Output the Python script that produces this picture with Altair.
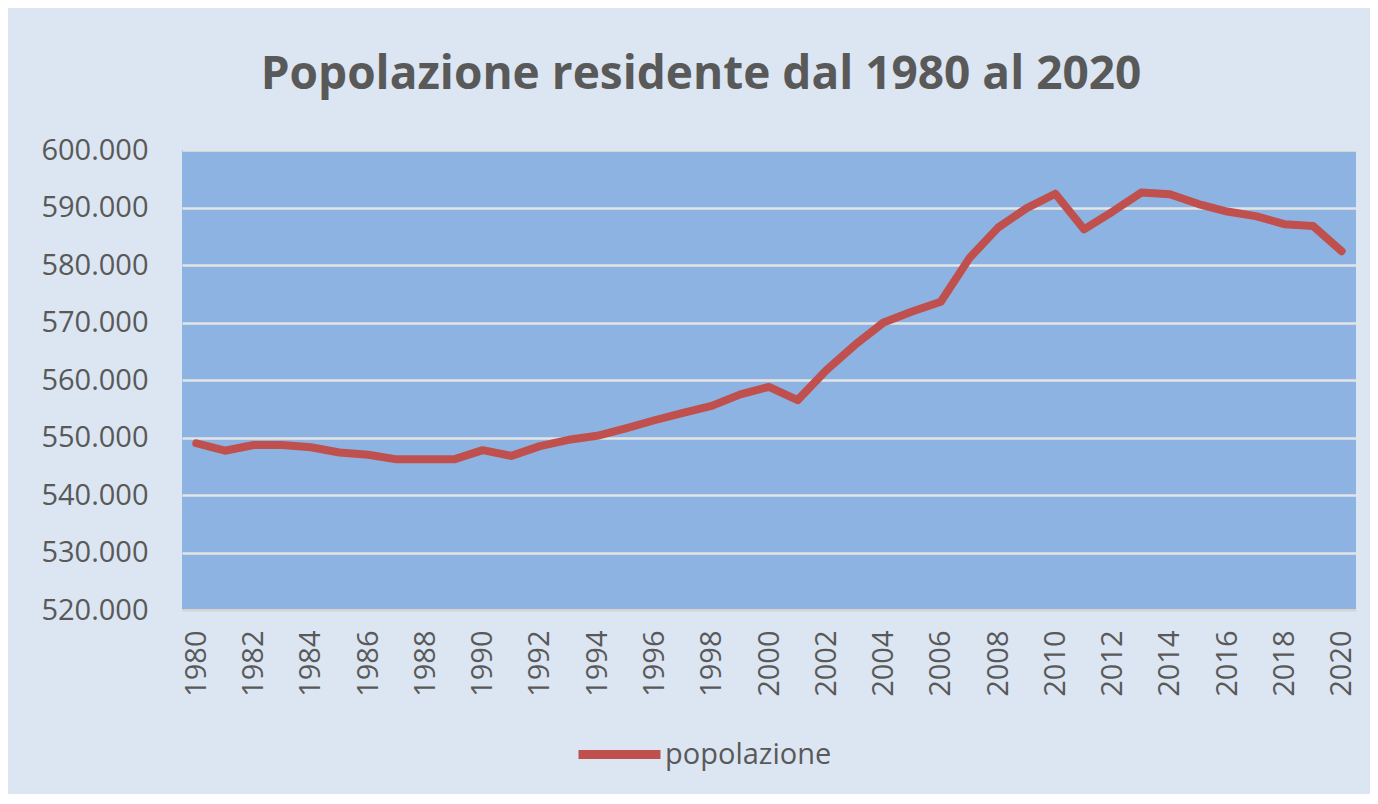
import altair as alt
import pandas as pd

years = list(range(1980, 2021))
popolazione = [
    549000, 547700, 548700, 548700, 548300, 547400, 547000, 546200, 546200, 546200,
    547800, 546800, 548500, 549600, 550300, 551600, 553000, 554300, 555500, 557500,
    558800, 556500, 561700, 566100, 570000, 571900, 573600, 581200, 586500, 589900,
    592400, 586200, 589300, 592600, 592300, 590600, 589300, 588500, 587100, 586800,
    582400,
]
serie = ["popolazione"] * len(years)
tick_years = years[::2]
y_ticks = list(range(520000, 600001, 10000))

df = pd.DataFrame({"anno": years, "valore": popolazione, "serie": serie})

TEXT = "#595959"
FONT = "Open Sans"

chart = (
    alt.Chart(df)
    .mark_line(strokeWidth=8, strokeCap="round", strokeJoin="round")
    .encode(
        x=alt.X(
            "anno:O",
            scale=alt.Scale(padding=0.5),
            axis=alt.Axis(
                values=tick_years,
                labelAngle=-90,
                labelPadding=20,
                ticks=False,
                grid=False,
                domain=True,
                domainColor="#d8d2c8",
                domainWidth=2,
                title=None,
            ),
        ),
        y=alt.Y(
            "valore:Q",
            scale=alt.Scale(domain=[520000, 600000], nice=False, zero=False),
            axis=alt.Axis(
                values=y_ticks,
                labelExpr="replace(format(datum.value, ','), ',', '.')",
                labelPadding=34,
                ticks=False,
                domain=False,
                grid=True,
                title=None,
            ),
        ),
        color=alt.Color(
            "serie:N",
            scale=alt.Scale(range=["#c0504d"]),
            legend=alt.Legend(
                title=None,
                orient="none",
                legendX=392,
                legendY=559,
                symbolType="stroke",
                symbolSize=6724,
                symbolStrokeWidth=9,
                labelFontSize=29,
                labelFont=FONT,
                labelColor=TEXT,
                labelOffset=0,
                labelLimit=400,
            ),
        ),
    )
    .properties(
        width=1174,
        height=460,
        autosize=alt.AutoSizeParams(type="none"),
        padding={"left": 174, "top": 142, "right": 14, "bottom": 184},
        title=alt.TitleParams(
            "Popolazione residente dal  1980 al 2020",
            anchor="middle",
            fontSize=46,
            font=FONT,
            fontWeight="bold",
            color=TEXT,
            offset=37,
            dx=-68,
        ),
    )
    .configure(background="#dce6f2")
    .configure_view(fill="#8db3e2", stroke=None)
    .configure_axis(
        labelFont=FONT,
        labelFontSize=29,
        labelColor=TEXT,
        gridColor="#e4e4e4",
        gridWidth=2.5,
        gridOpacity=1,
    )
)

chart.save("out.html", embed_options={"renderer": "svg", "actions": False})
